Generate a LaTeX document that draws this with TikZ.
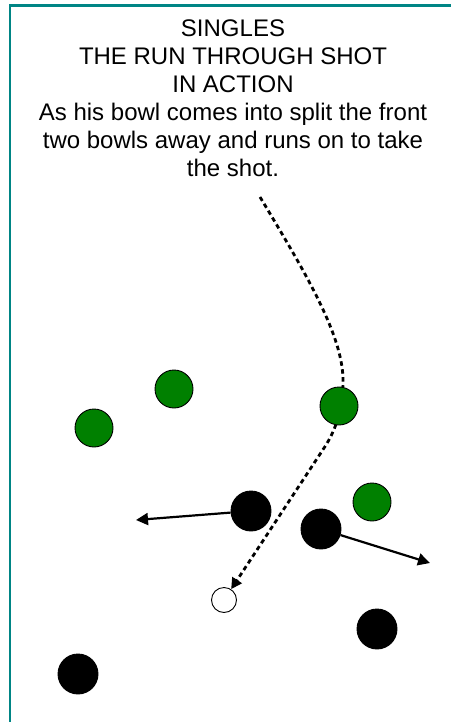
\documentclass[tikz,border=0pt]{standalone}
\usepackage{fontspec}
\setmainfont{Liberation Sans}
\usetikzlibrary{arrows.meta,backgrounds}

\begin{document}
\begin{tikzpicture}[x=1pt,y=-1pt,
  bowl/.style={circle,draw=black,line width=0.9pt,minimum size=38pt,inner sep=0pt},
  greenbowl/.style={bowl,fill=bowlgreen},
  blackbowl/.style={bowl,fill=black,minimum size=40pt},
  jackball/.style={circle,draw=black,line width=0.9pt,fill=white,minimum size=25pt,inner sep=0pt},
  push/.style={line width=2.2pt,-{Triangle[length=12pt,width=12pt]}},
  runline/.style={line width=2.8pt,dash pattern=on 4.5pt off 3.5pt,-{Triangle[length=11pt,width=11pt]}}]
\definecolor{bowlgreen}{RGB}{0,128,0}
\definecolor{frameteal}{RGB}{0,133,133}
\useasboundingbox (0,0) rectangle (450,722);
% frame
\draw[frameteal,line width=2.8pt] (10,740) -- (10,5.3) -- (470,5.3);
% title
\node[anchor=north,align=center,inner sep=0pt,font=\fontsize{24}{28}\selectfont] (title) at (233,20)
  {SINGLES\\THE RUN THROUGH SHOT\\IN ACTION\\As his bowl comes into split the front\\two bowls away and runs on to take\\the shot.};
% bowls and jack
\node[greenbowl] (g1) at (94,428) {};
\node[greenbowl] (g2) at (174,389) {};
\node[greenbowl] (runner) at (339,406) {};
\node[greenbowl] (g3) at (372,502) {};
\node[blackbowl] (b1) at (251,511) {};
\node[blackbowl] (b2) at (321,529) {};
\node[blackbowl] (b3) at (377,629) {};
\node[blackbowl] (b4) at (78,674) {};
\node[jackball] (jack) at (224,600) {};
% path of the bowl, under the bowls
\coordinate (start) at (260,197);
\begin{scope}[on background layer]
\draw[runline] (start) .. controls (310,280) and (345,340) .. (343,385)
  .. controls (341,410) and (338,425) .. (326,445) -- (jack);
\end{scope}
% bowls knocked away
\coordinate (b1end) at (136,520);
\coordinate (b2end) at (430,563);
\draw[push] (b1) -- (b1end);
\draw[push] (b2) -- (b2end);
\end{tikzpicture}
\end{document}
